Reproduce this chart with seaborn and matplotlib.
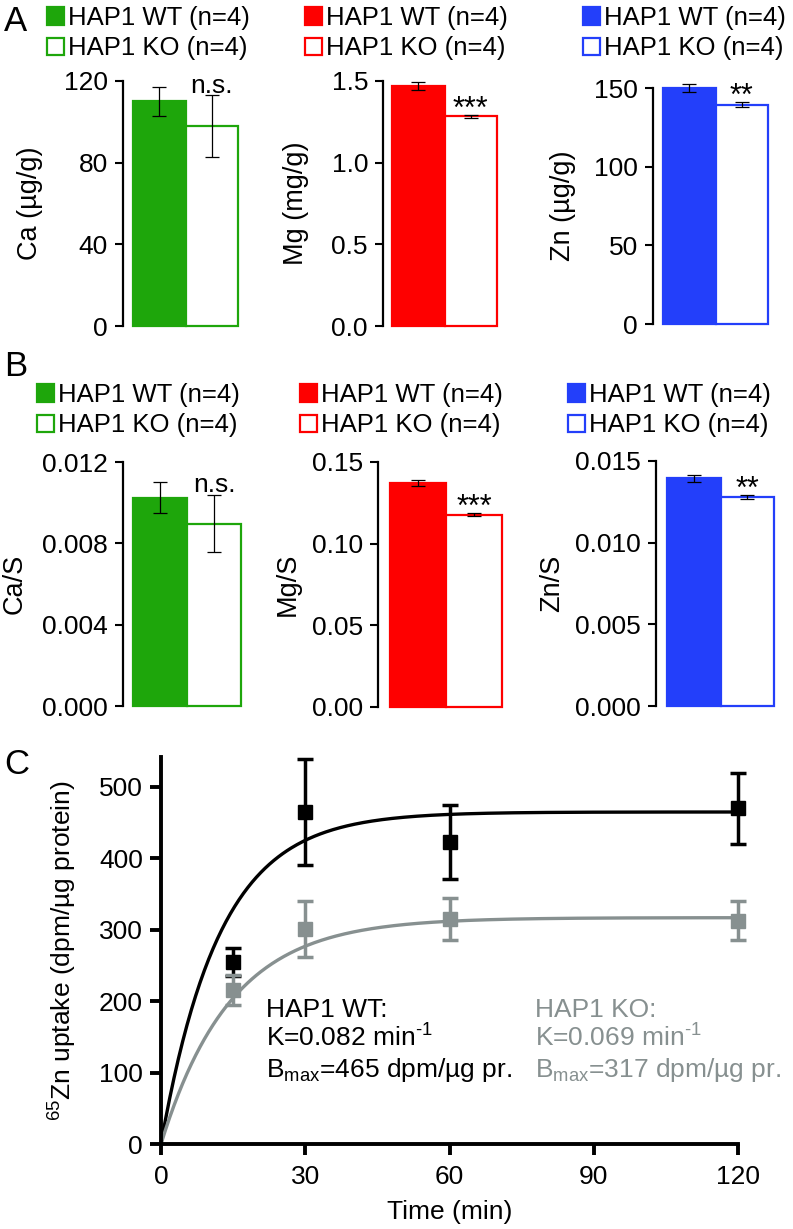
import numpy as np
import pandas as pd
import matplotlib
matplotlib.use("Agg")
import matplotlib.pyplot as plt
import seaborn as sns
from matplotlib.patches import Patch
from matplotlib.ticker import FormatStrFormatter

# ======================================
# DATA
# ======================================
groups = ["HAP1 WT (n=4)", "HAP1 KO (n=4)"]
element_colors = ["#1ea60b", "#fe0000", "#233ffa"]

# panel A: content per gram
a_ylabels = ["Ca (µg/g)", "Mg (mg/g)", "Zn (µg/g)"]
a_wt_mean = [110, 1.47, 150]
a_ko_mean = [98, 1.285, 139.5]
a_wt_err = [7, 0.024, 2.3]
a_ko_err = [15, 0.009, 1.3]
a_sig = ["n.s.", "***", "**"]
a_yticks = [[0, 40, 80, 120], [0.0, 0.5, 1.0, 1.5], [0, 50, 100, 150]]
a_fmt = ["%d", "%.1f", "%d"]

# panel B: ratio to sulfur
b_ylabels = ["Ca/S", "Mg/S", "Zn/S"]
b_wt_mean = [0.01025, 0.1369, 0.01394]
b_ko_mean = [0.00897, 0.1178, 0.01277]
b_wt_err = [0.00078, 0.0018, 0.0002]
b_ko_err = [0.0014, 0.0007, 0.00012]
b_sig = ["n.s.", "***", "**"]
b_yticks = [[0, 0.004, 0.008, 0.012], [0, 0.05, 0.10, 0.15], [0, 0.005, 0.010, 0.015]]
b_fmt = ["%.3f", "%.2f", "%.3f"]

# panel C: 65Zn uptake
time_min = [15, 30, 60, 120]
wt_uptake = [255, 465, 423, 470]
wt_uptake_err = [20, 74, 52, 50]
ko_uptake = [216, 301, 315, 313]
ko_uptake_err = [21, 39, 29, 27]
wt_k, wt_bmax = 0.082, 465
ko_k, ko_bmax = 0.069, 317
c_xticks = [0, 30, 60, 90, 120]
c_yticks = [0, 100, 200, 300, 400, 500]

GRAY = "#879090"

# ======================================
# STYLE
# ======================================
sns.set_style("ticks")
plt.rcParams["font.family"] = ["Liberation Sans", "DejaVu Sans"]
plt.rcParams["mathtext.fontset"] = "custom"
plt.rcParams["mathtext.rm"] = "Liberation Sans"
plt.rcParams["mathtext.default"] = "regular"
for key in ["text.color", "axes.labelcolor", "xtick.color", "ytick.color", "axes.edgecolor"]:
    plt.rcParams[key] = "black"
FS = 19

W, H = 793, 1229
fig = plt.figure(figsize=(W / 100, H / 100), dpi=100)


def add_axes_px(left, top, right, bottom):
    return fig.add_axes([left / W, 1 - bottom / H, (right - left) / W, (bottom - top) / H])


def bar_panel(box, bars, ylabel, label_x, means, errs, color, yticks, fmt, sig, legend_pos):
    left, top, bottom = box
    bar_start, bar_end = bars
    right = bar_end + 3
    ax = add_axes_px(left, top, right, bottom)
    df = pd.DataFrame({"group": groups, "value": means})
    sns.barplot(data=df, x="group", y="value", hue="group", palette=[color, "white"],
                width=1, errorbar=None, saturation=1, legend=False, ax=ax)
    for patch in ax.patches:
        patch.set_edgecolor(color)
        patch.set_linewidth(1.6)
        patch.set_clip_on(False)
    ax.errorbar([0, 1], means, yerr=errs, fmt="none", ecolor="black",
                elinewidth=0.9, capsize=5, capthick=0.9, clip_on=False)

    unit = (bar_end - bar_start) / 2
    ax.set_xlim(-0.5 - (bar_start - left) / unit, 1.5 + (right - bar_end) / unit)
    ax.set_ylim(0, yticks[-1])
    ax.set_yticks(yticks)
    ax.yaxis.set_major_formatter(FormatStrFormatter(fmt))
    ax.set_xticks([])
    ax.set_xlabel("")
    sns.despine(ax=ax, bottom=True)
    ax.spines["left"].set_linewidth(1.6)
    ax.tick_params(axis="y", length=5.8, width=1.5, pad=5, labelsize=FS)
    ax.set_ylabel(ylabel, fontsize=FS + 0.5, va="center")
    ax.yaxis.set_label_coords((label_x - left) / (right - left), 0.5)

    top_val = means[1] + errs[1]
    if sig == "n.s.":
        ax.annotate(sig, xy=(1, top_val), xytext=(0, 2), textcoords="offset points",
                    ha="center", va="baseline", fontsize=FS, annotation_clip=False)
    else:
        ax.annotate(sig, xy=(1, top_val), xytext=(0, -2), textcoords="offset points",
                    ha="center", va="baseline", fontsize=22, annotation_clip=False)

    handles = [Patch(facecolor=color, edgecolor=color, linewidth=1.6),
               Patch(facecolor="white", edgecolor=color, linewidth=1.6)]
    ax.legend(handles, groups, loc="upper left",
              bbox_to_anchor=(legend_pos[0] / W, 1 - legend_pos[1] / H),
              bbox_transform=fig.transFigure, frameon=False, borderpad=0,
              borderaxespad=0, handlelength=0.65, handleheight=0.65,
              handletextpad=0.15, labelspacing=0.25, fontsize=18.5)
    return ax


# ======================================
# PANEL A
# ======================================
a_boxes = [(123, 81, 326), (383, 81, 326), (653, 88, 324)]
a_bars = [(133, 238), (392, 497), (663, 768)]
a_label_x = [30, 296, 563]
a_legend = [(47, 6), (305, 6), (583, 6)]
for i in range(3):
    bar_panel(a_boxes[i], a_bars[i], a_ylabels[i], a_label_x[i],
              [a_wt_mean[i], a_ko_mean[i]], [a_wt_err[i], a_ko_err[i]],
              element_colors[i], a_yticks[i], a_fmt[i], a_sig[i], a_legend[i])

# ======================================
# PANEL B
# ======================================
b_boxes = [(123, 462, 706), (378, 462, 707), (656, 461, 706)]
b_bars = [(133, 241), (390, 502), (667, 774)]
b_label_x = [15, 288, 552]
b_legend = [(37, 383), (300, 383), (568, 383)]
for i in range(3):
    bar_panel(b_boxes[i], b_bars[i], b_ylabels[i], b_label_x[i],
              [b_wt_mean[i], b_ko_mean[i]], [b_wt_err[i], b_ko_err[i]],
              element_colors[i], b_yticks[i], b_fmt[i], b_sig[i], b_legend[i])

# ======================================
# PANEL C
# ======================================
ax = add_axes_px(161, 757, 738, 1144)
t_fit = np.linspace(0, 120, 400)
sns.lineplot(x=t_fit, y=wt_bmax * (1 - np.exp(-wt_k * t_fit)), color="black",
             linewidth=2.4, ax=ax)
sns.lineplot(x=t_fit, y=ko_bmax * (1 - np.exp(-ko_k * t_fit)), color=GRAY,
             linewidth=2.4, ax=ax)
ax.errorbar(time_min, wt_uptake, yerr=wt_uptake_err, fmt="s", ms=10, color="black",
            elinewidth=2.5, capsize=5.5, capthick=2.5, clip_on=False, zorder=4)
ax.errorbar(time_min, ko_uptake, yerr=ko_uptake_err, fmt="s", ms=10, color=GRAY,
            elinewidth=2.5, capsize=5.5, capthick=2.5, clip_on=False, zorder=5)
ax.set_xlim(0, 120)
ax.set_ylim(0, 542)
ax.set_xticks(c_xticks)
ax.set_yticks(c_yticks)
sns.despine(ax=ax)
for side in ["left", "bottom"]:
    ax.spines[side].set_linewidth(2.8)
ax.tick_params(axis="both", length=8, width=2.8, labelsize=FS)
ax.tick_params(axis="y", pad=5)
ax.tick_params(axis="x", pad=7)
ax.set_xlabel("Time (min)", fontsize=FS, labelpad=8)
ax.set_ylabel("$^{65}$Zn uptake (dpm/µg protein)", fontsize=FS, va="center")
ax.yaxis.set_label_coords((63 - 161) / (738 - 161), 0.5)

wt_lines = ["HAP1 WT:", r"K=0.082 min$^{\text{-1}}$", "B$_{max}$=465 dpm/µg pr."]
ko_lines = ["HAP1 KO:", r"K=0.069 min$^{\text{-1}}$", "B$_{max}$=317 dpm/µg pr."]
for j, base in enumerate([1017, 1047, 1077]):
    fig.text(266 / W, 1 - base / H, wt_lines[j], fontsize=FS, color="black",
             ha="left", va="baseline")
    fig.text(535 / W, 1 - base / H, ko_lines[j], fontsize=FS, color=GRAY,
             ha="left", va="baseline")

# panel letters
for letter, top_px in [("A", 5), ("B", 350), ("C", 748)]:
    fig.text(4 / W, 1 - top_px / H, letter, fontsize=25, ha="left", va="top")

fig.savefig("out.png", dpi=100)
